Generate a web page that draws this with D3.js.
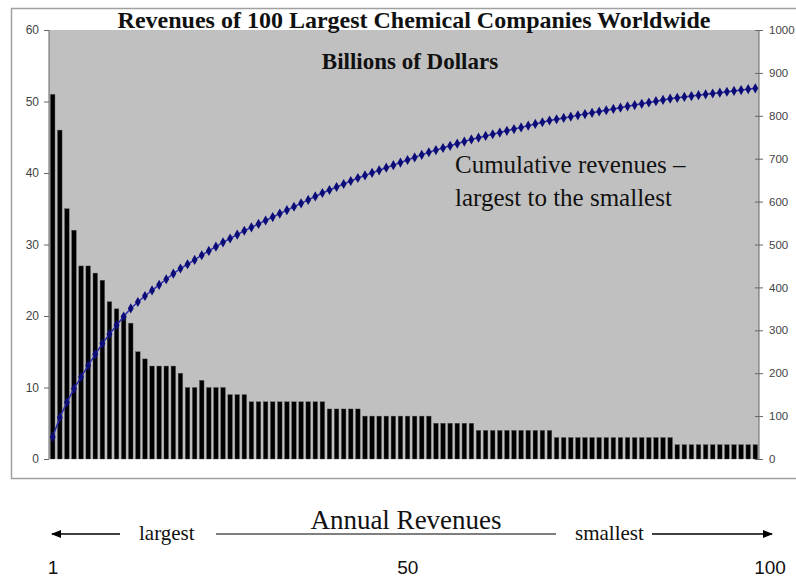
<!DOCTYPE html>
<html>
<head>
<meta charset="utf-8">
<script src="https://cdn.jsdelivr.net/npm/d3@7"></script>
<style>
  body { margin: 0; background: #fff; }
  svg { display: block; }
  .axis text { font-family: Arial, "Liberation Sans", sans-serif; font-size: 12px; fill: #444; }
  .axis.right text { font-size: 11.5px; }
  .axis path, .axis line { stroke: #666; }
  .serif { font-family: "Liberation Serif", "Times New Roman", serif; fill: #111; }
  .sans { font-family: Arial, "Liberation Sans", sans-serif; fill: #111; }
</style>
</head>
<body>
<div id="chart"></div>
<script>
// annual revenues of each company, largest to smallest (billions of dollars)
var ranks = d3.range(1, 101);
var revenues = [
  51, 46, 35, 32, 27, 27, 26, 25, 22, 21,
  20, 19, 15, 14, 13, 13, 13, 13, 12, 10,
  10, 11, 10, 10, 10, 9, 9, 9, 8, 8,
  8, 8, 8, 8, 8, 8, 8, 8, 8, 7,
  7, 7, 7, 7, 6, 6, 6, 6, 6, 6,
  6, 6, 6, 6, 5, 5, 5, 5, 5, 5,
  4, 4, 4, 4, 4, 4, 4, 4, 4, 4,
  4, 3, 3, 3, 3, 3, 3, 3, 3, 3,
  3, 3, 3, 3, 3, 3, 3, 3, 2, 2,
  2, 2, 2, 2, 2, 2, 2, 2, 2, 2
];
var cumulative = Array.from(d3.cumsum(revenues));
var leftTicks = [0, 10, 20, 30, 40, 50, 60];
var rightTicks = [0, 100, 200, 300, 400, 500, 600, 700, 800, 900, 1000];
var rankLabels = [1, 50, 100];

var width = 796, height = 579;
var plot = { left: 49, right: 759, top: 30, bottom: 459 };

var svg = d3.select("#chart").append("svg")
    .attr("width", width)
    .attr("height", height);

// outer chart frame
svg.append("rect")
    .attr("x", 11.5).attr("y", 8.5)
    .attr("width", 800).attr("height", 470)
    .attr("fill", "#fff")
    .attr("stroke", "#a0a0a0")
    .attr("stroke-width", 1.5);

svg.append("rect")
    .attr("x", plot.left).attr("y", plot.top)
    .attr("width", plot.right - plot.left)
    .attr("height", plot.bottom - plot.top)
    .attr("fill", "#c0c0c0");

var x = d3.scaleBand()
    .domain(ranks)
    .range([plot.left, plot.right])
    .paddingInner(0.36)
    .paddingOuter(0.2);

var yLeft = d3.scaleLinear().domain([0, 60]).range([plot.bottom, plot.top]);
var yRight = d3.scaleLinear().domain([0, 1000]).range([plot.bottom, plot.top]);

svg.append("g")
    .attr("class", "axis")
    .attr("transform", "translate(" + plot.left + ",0)")
    .call(d3.axisLeft(yLeft).tickValues(leftTicks).tickSize(5).tickPadding(5))
    .call(function(g) { g.select(".domain").attr("d", "M0," + plot.top + "V" + plot.bottom); });

svg.append("g")
    .attr("class", "axis right")
    .attr("transform", "translate(" + plot.right + ",0)")
    .call(d3.axisRight(yRight).tickValues(rightTicks).tickFormat(d3.format("d")).tickSize(4).tickPadding(6))
    .call(function(g) {
        g.select(".domain").attr("d", "M0," + plot.top + "V" + plot.bottom);
        g.selectAll(".tick line").attr("x1", -4);
    });

svg.append("g")
    .selectAll("rect")
    .data(revenues)
    .join("rect")
    .attr("x", function(d, i) { return x(ranks[i]); })
    .attr("y", function(d) { return yLeft(d); })
    .attr("width", x.bandwidth())
    .attr("height", function(d) { return plot.bottom - yLeft(d); })
    .attr("fill", "#000")
    .attr("stroke", "#555")
    .attr("stroke-width", 0.4);

var cx = function(d, i) { return x(ranks[i]) + x.bandwidth() / 2; };

svg.append("path")
    .datum(cumulative)
    .attr("fill", "none")
    .attr("stroke", "#3030b0")
    .attr("stroke-width", 1.5)
    .attr("d", d3.line().x(cx).y(function(d) { return yRight(d); }));

svg.append("g")
    .selectAll("path")
    .data(cumulative)
    .join("path")
    .attr("transform", function(d, i) { return "translate(" + cx(d, i) + "," + yRight(d) + ")"; })
    .attr("d", d3.symbol().type(d3.symbolDiamond).size(30))
    .attr("fill", "#0c0c78");

// titles
svg.append("text")
    .attr("class", "serif")
    .attr("x", 414).attr("y", 28)
    .attr("text-anchor", "middle")
    .attr("font-size", 24)
    .attr("font-weight", "bold")
    .text("Revenues of 100 Largest Chemical Companies Worldwide");

svg.append("text")
    .attr("class", "serif")
    .attr("x", 410).attr("y", 69)
    .attr("text-anchor", "middle")
    .attr("font-size", 23)
    .attr("font-weight", "bold")
    .text("Billions of Dollars");

svg.append("text")
    .attr("class", "serif")
    .attr("x", 455).attr("y", 173)
    .attr("font-size", 25)
    .attr("fill", "#222")
    .text("Cumulative revenues \u2013");

svg.append("text")
    .attr("class", "serif")
    .attr("x", 455).attr("y", 206)
    .attr("font-size", 25)
    .attr("fill", "#222")
    .text("largest to the smallest");

// rank direction legend under the chart
var arrowY = 534;
svg.append("defs").append("marker")
    .attr("id", "arrow")
    .attr("viewBox", "0 0 10 10")
    .attr("refX", 9).attr("refY", 5)
    .attr("markerWidth", 7).attr("markerHeight", 7)
    .attr("orient", "auto-start-reverse")
    .append("path")
    .attr("d", "M0,1L10,5L0,9Z")
    .attr("fill", "#000");

svg.append("line")
    .attr("x1", 120).attr("x2", 52).attr("y1", arrowY).attr("y2", arrowY)
    .attr("stroke", "#000").attr("stroke-width", 1.5)
    .attr("marker-end", "url(#arrow)");
svg.append("line")
    .attr("x1", 216).attr("x2", 556).attr("y1", arrowY).attr("y2", arrowY)
    .attr("stroke", "#000").attr("stroke-width", 1);
svg.append("line")
    .attr("x1", 652).attr("x2", 772).attr("y1", arrowY).attr("y2", arrowY)
    .attr("stroke", "#000").attr("stroke-width", 1.5)
    .attr("marker-end", "url(#arrow)");

svg.append("text")
    .attr("class", "serif")
    .attr("x", 139).attr("y", 540)
    .attr("font-size", 21)
    .text("largest");
svg.append("text")
    .attr("class", "serif")
    .attr("x", 575).attr("y", 540)
    .attr("font-size", 21)
    .text("smallest");
svg.append("text")
    .attr("class", "serif")
    .attr("x", 406).attr("y", 529)
    .attr("text-anchor", "middle")
    .attr("font-size", 27)
    .text("Annual Revenues");

var rankScale = d3.scaleLinear().domain([1, 100]).range([53, 770]);
svg.append("g")
    .selectAll("text")
    .data(rankLabels)
    .join("text")
    .attr("class", "sans")
    .attr("x", function(d) { return rankScale(d); })
    .attr("y", 574)
    .attr("text-anchor", "middle")
    .attr("font-size", 19)
    .text(function(d) { return d; });
</script>
</body>
</html>
